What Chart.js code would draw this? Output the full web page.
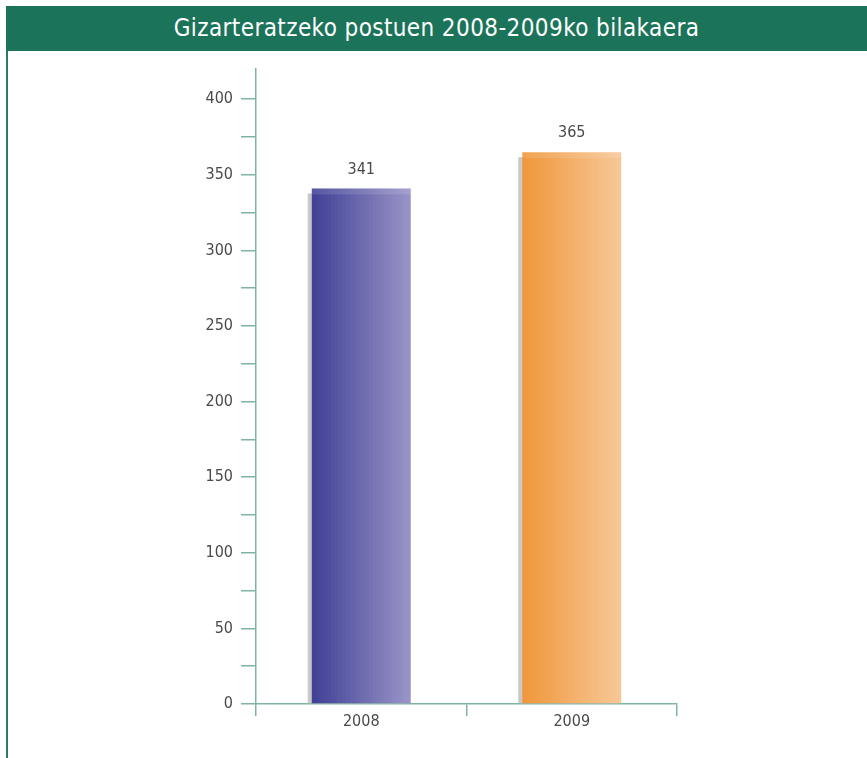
<!DOCTYPE html>
<html>
<head>
<meta charset="utf-8">
<script src="https://cdn.jsdelivr.net/npm/chart.js@4.4.1/dist/chart.umd.min.js"></script>
<style>
  body { margin: 0; background: #fff; }
  #wrap { position: relative; width: 867px; height: 758px; overflow: hidden; }
  #title {
    position: absolute; left: 6px; top: 6px; width: 861px; height: 45px;
    background: #1b7359; color: #fff; text-align: center;
    font: 24px "Liberation Sans Narrow", "DejaVu Sans Condensed", sans-serif;
    line-height: 45px; letter-spacing: 0.4px;
  }
  #side { position: absolute; left: 6px; top: 51px; width: 2px; height: 707px; background: #2d7a5f; }
  canvas { position: absolute; left: 0; top: 0; }
</style>
</head>
<body>
<div id="wrap">
  <canvas id="grafico" width="867" height="758"></canvas>
  <div id="title">Gizarteratzeko postuen 2008-2009ko bilakaera</div>
  <div id="side"></div>
</div>
<script>
// dati
var anni = ['2008', '2009'];
var posti = [341, 365];
var coloriSx = ['#3f3f95', '#f0963a'];
var coloriDx = ['#9a95c8', '#f7c898'];

var FONT = '"Liberation Sans Narrow", "DejaVu Sans Condensed", sans-serif';
var assi = '#7fb3a3';

function mescola(a, b, t) {
    var pa = [parseInt(a.substr(1, 2), 16), parseInt(a.substr(3, 2), 16), parseInt(a.substr(5, 2), 16)];
    var pb = [parseInt(b.substr(1, 2), 16), parseInt(b.substr(3, 2), 16), parseInt(b.substr(5, 2), 16)];
    var r = [];
    for (var i = 0; i < 3; i++) r.push(Math.round(pa[i] + (pb[i] - pa[i]) * t));
    return 'rgb(' + r.join(',') + ')';
}

function sfumatura(c, el, i) {
    var w = el.width;
    var g = c.createLinearGradient(el.x - w / 2, 0, el.x + w / 2, 0);
    // gradino a strisce, come nell'originale
    var n = 26;
    for (var k = 0; k < n; k++) {
        var col = mescola(coloriSx[i], coloriDx[i], (k + 0.5) / n);
        g.addColorStop(k / n, col);
        g.addColorStop((k + 1) / n - 0.0001, col);
    }
    return g;
}

// ombra grigia, sfumatura ed etichette
var ombra = {
    id: 'ombra',
    beforeDatasetsDraw: function (chart) {
        var c = chart.ctx;
        var meta = chart.getDatasetMeta(0);
        c.save();
        c.fillStyle = '#c8c8c8';
        meta.data.forEach(function (el, i) {
            var w = el.width;
            c.fillRect(el.x - w / 2 - 4, el.y + 5, w, el.base - el.y - 5);
            el.options.backgroundColor = sfumatura(c, el, i);
        });
        c.restore();
    },
    afterDatasetsDraw: function (chart) {
        var c = chart.ctx;
        var meta = chart.getDatasetMeta(0);
        c.save();
        // fascia chiara in cima
        c.fillStyle = 'rgba(255,255,255,0.12)';
        meta.data.forEach(function (el) {
            c.fillRect(el.x - el.width / 2, el.y, el.width, 6);
        });
        c.fillStyle = '#4a4a4a';
        c.font = '16px ' + FONT;
        c.textAlign = 'center';
        c.textBaseline = 'middle';
        meta.data.forEach(function (el, i) {
            c.fillText(posti[i], el.x, el.y - 19);
        });
        c.restore();
    }
};

var chart = new Chart(document.getElementById('grafico'), {
    type: 'bar',
    data: {
        labels: anni,
        datasets: [{
            data: posti,
            backgroundColor: coloriSx,
            borderWidth: 0,
            barPercentage: 0.47,
            categoryPercentage: 1
        }]
    },
    options: {
        responsive: false,
        devicePixelRatio: 1,
        animation: false,
        layout: { padding: { left: 0, right: 190, top: 69, bottom: 24 } },
        plugins: { legend: { display: false }, tooltip: { enabled: false } },
        scales: {
            x: {
                grid: { offset: true, drawOnChartArea: false, tickLength: 12, tickColor: assi, lineWidth: 1.5 },
                border: { color: assi, width: 1.5 },
                ticks: { color: '#4a4a4a', font: { family: FONT, size: 16 }, padding: -4 },
                afterFit: function (s) { s.height = 30; }
            },
            y: {
                min: 0,
                max: 420,
                grid: { drawOnChartArea: false, tickLength: 15, tickColor: assi, lineWidth: 1.5 },
                border: { color: assi, width: 1.5 },
                ticks: {
                    stepSize: 25,
                    color: '#4a4a4a',
                    font: { family: FONT, size: 16 },
                    padding: 8,
                    callback: function (v) { return v % 50 === 0 ? v : ''; }
                },
                afterBuildTicks: function (s) {
                    s.ticks = s.ticks.filter(function (t) { return t.value % 25 === 0; });
                },
                afterFit: function (s) { s.width = 256; }
            }
        }
    },
    plugins: [ombra]
});
</script>
</body>
</html>
